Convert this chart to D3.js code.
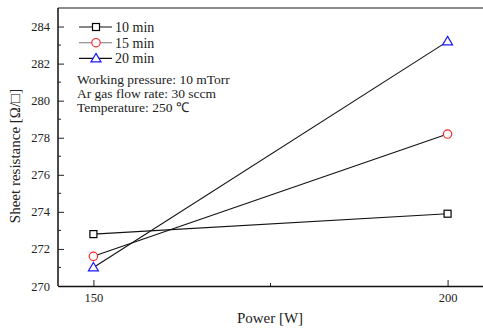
<!DOCTYPE html>
<html><head><meta charset="utf-8">
<script src="https://cdn.jsdelivr.net/npm/d3@7"></script>
<style>body{margin:0;background:#fff}svg{display:block}text{font-family:"Liberation Serif","Times New Roman",serif;fill:#222}</style>
</head><body>
<svg id="c" width="483" height="330"></svg>
<script>
const powers = [150, 200];
const seriesNames = ["10 min", "15 min", "20 min"];
const values10 = [272.8, 273.9];
const values15 = [271.6, 278.2];
const values20 = [271.0, 283.2];
const yTicks = [270, 272, 274, 276, 278, 280, 282, 284];
const yMinor = [271, 273, 275, 277, 279, 281, 283];
const xTicks = [150, 200];
const xMinor = [175];
const notes = ["Working pressure: 10 mTorr", "Ar gas flow rate: 30 sccm", "Temperature: 250 \u2103"];

const svg = d3.select("#c");
const L = 58, T = 8, R = 483, B = 286;
const x = d3.scaleLinear().domain([145, 205]).range([L, R]);
const y = d3.scaleLinear().domain([270, 285]).range([B, T]);

svg.append("line").attr("x1", L).attr("x2", R).attr("y1", T).attr("y2", T)
  .attr("stroke", "#666").attr("stroke-width", 1.5);

const yAxis = d3.axisLeft(y).tickValues(yTicks).tickSizeInner(-6).tickSizeOuter(0).tickPadding(8);
const gy = svg.append("g").attr("transform", `translate(${L},0)`).call(yAxis);
gy.select(".domain").attr("stroke", "#111").attr("stroke-width", 1.5).attr("d", `M0,${T}V${B}`);
gy.selectAll("text").attr("font-size", 12.5).attr("fill", "#333").attr("font-family", "Liberation Serif, serif");
gy.selectAll(".tick line").attr("stroke", "#222");
svg.append("g").selectAll("line").data(yMinor).join("line")
  .attr("x1", L).attr("x2", L + 3).attr("y1", d => y(d)).attr("y2", d => y(d)).attr("stroke", "#222");

const xAxis = d3.axisBottom(x).tickValues(xTicks).tickFormat(d3.format("d")).tickSizeInner(-6).tickSizeOuter(0).tickPadding(7);
const gx = svg.append("g").attr("transform", `translate(0,${B})`).call(xAxis);
gx.select(".domain").attr("stroke", "#111").attr("stroke-width", 1.5);
gx.selectAll("text").attr("font-size", 12.5).attr("fill", "#333").attr("font-family", "Liberation Serif, serif");
gx.selectAll(".tick line").attr("stroke", "#222");
svg.append("g").selectAll("line").data(xMinor).join("line")
  .attr("x1", d => x(d)).attr("x2", d => x(d)).attr("y1", B).attr("y2", B - 3).attr("stroke", "#222");

svg.append("text").attr("x", 270).attr("y", 323).attr("text-anchor", "middle").attr("font-size", 15).text("Power [W]");
svg.append("text").attr("transform", "translate(20,156) rotate(-90)").attr("text-anchor", "middle")
  .attr("font-size", 15).text("Sheet resistance [\u03A9/\u25A1]");

const series = [
  {name: seriesNames[0], vals: values10, color: "#000", lg: "#111", shape: "square"},
  {name: seriesNames[1], vals: values15, color: "#ff2a2a", lg: "#777", shape: "circle"},
  {name: seriesNames[2], vals: values20, color: "#1a1aff", lg: "#111", shape: "triangle"}
];

function marker(g, s, cx, cy) {
  if (s.shape === "square") {
    g.append("rect").attr("x", cx - 3.5).attr("y", cy - 3.5).attr("width", 7).attr("height", 7)
      .attr("fill", "#fff").attr("stroke", s.color).attr("stroke-width", 1.2);
  } else if (s.shape === "circle") {
    g.append("circle").attr("cx", cx).attr("cy", cy).attr("r", 4.2)
      .attr("fill", "#fff").attr("stroke", s.color).attr("stroke-width", 1.2);
  } else {
    g.append("path").attr("d", `M${cx},${cy - 5}L${cx + 5},${cy + 3.5}L${cx - 5},${cy + 3.5}Z`)
      .attr("fill", "#fff").attr("stroke", s.color).attr("stroke-width", 1.2);
  }
}

const line = d3.line().x((d, i) => x(powers[i])).y(d => y(d));
const plot = svg.append("g");
series.forEach(s => {
  plot.append("path").attr("d", line(s.vals)).attr("fill", "none").attr("stroke", "#111").attr("stroke-width", 1.1);
});
series.forEach(s => {
  s.vals.forEach((v, i) => marker(plot, s, x(powers[i]), y(v)));
});

const lg = svg.append("g");
series.forEach((s, i) => {
  const cy = 27 + i * 15.7;
  lg.append("line").attr("x1", 79).attr("x2", 112).attr("y1", cy).attr("y2", cy).attr("stroke", s.lg).attr("stroke-width", 1.1);
  marker(lg, s, 96, cy);
  lg.append("text").attr("x", 115).attr("y", cy + 5).attr("font-size", 14).text(s.name);
});
notes.forEach((t, i) => {
  svg.append("text").attr("x", 77).attr("y", 83.5 + i * 14).attr("font-size", 13.5).text(t);
});
</script>
</body></html>
